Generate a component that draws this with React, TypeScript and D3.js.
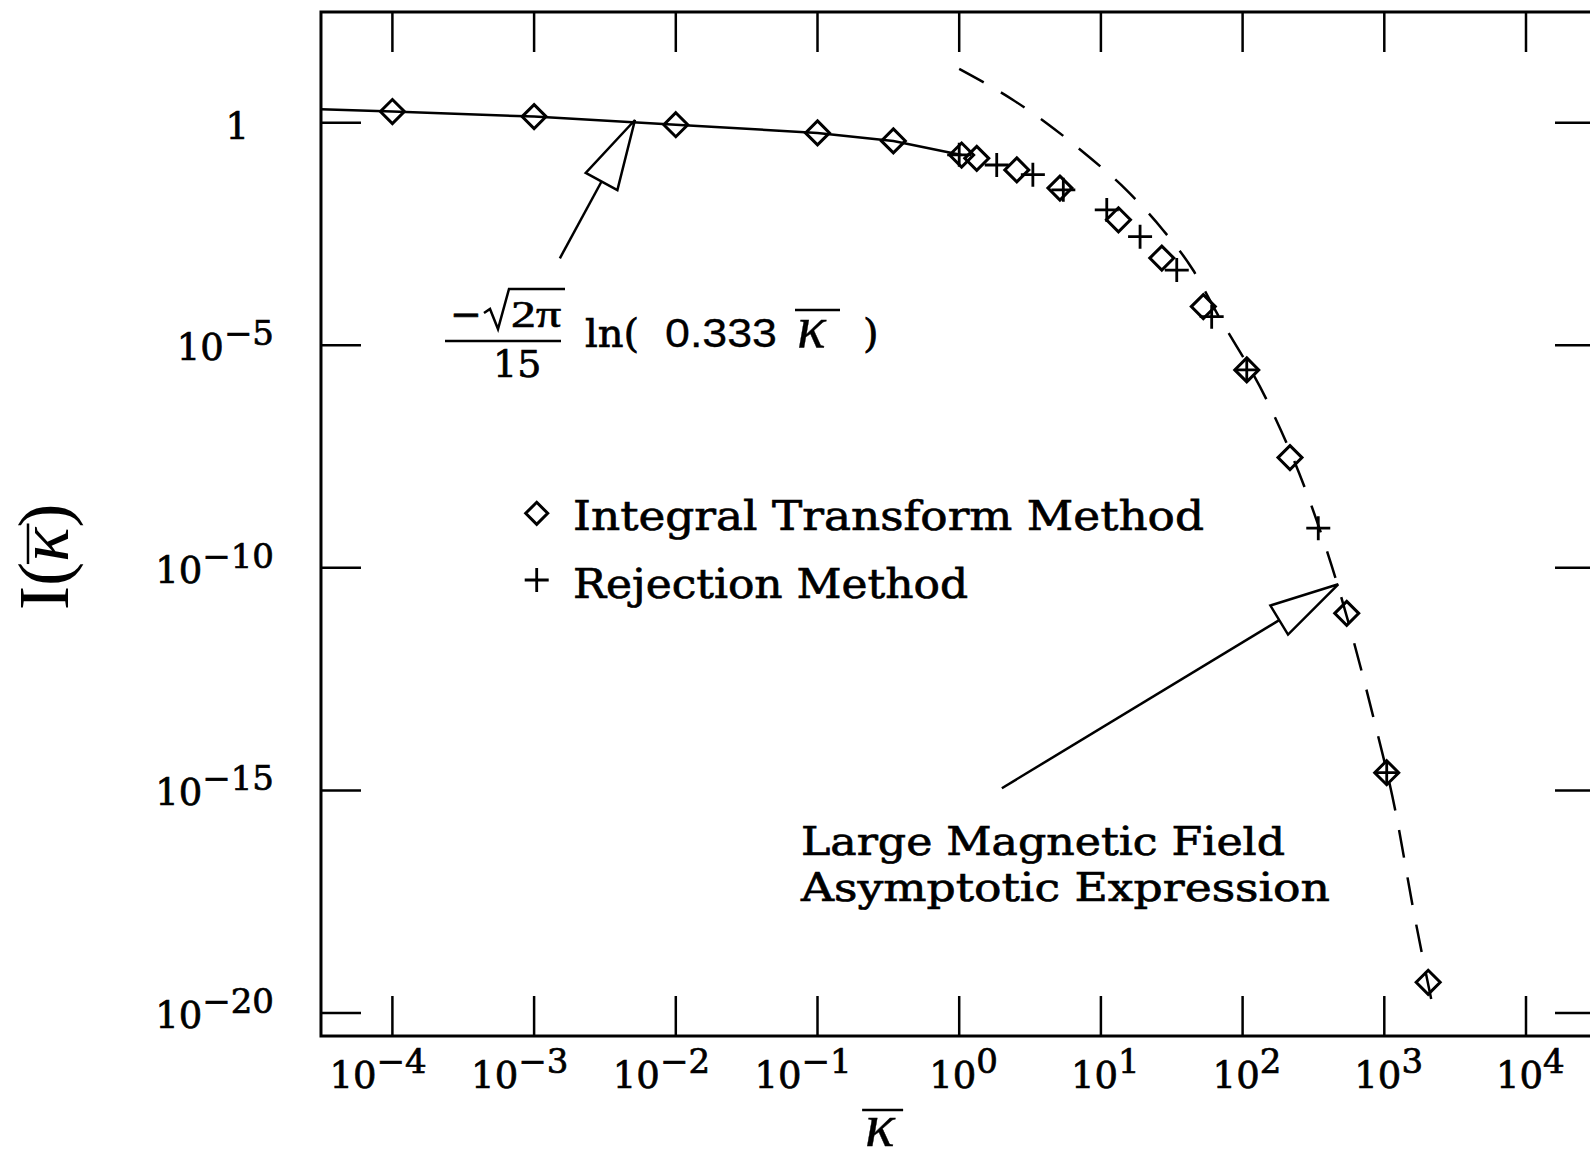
import React, { useEffect, useRef } from 'react';
import * as d3 from 'd3';

const W = 1590;
const H = 1159;

// Integral Transform Method (diamonds)
const itmKappa = [1e-4, 1e-3, 1e-2, 0.1, 0.343, 1.04, 1.33, 2.55, 5.14, 13.3, 26.9, 52.8, 107, 216, 543, 1040, 2040];
const itmValue = [1.78, 1.37, 0.9, 0.59, 0.39, 0.188, 0.158, 0.087, 0.034, 6.6e-3, 9.1e-4, 7.4e-5, 2.8e-6, 3.0e-8, 9.5e-12, 2.5e-15, 4.9e-20];

// Rejection Method (plus)
const rejKappa = [1.0, 1.84, 3.31, 5.43, 11.0, 18.9, 34.3, 60.5, 107, 342, 1040];
const rejValue = [0.19, 0.112, 0.068, 0.031, 0.011, 2.75e-3, 4.9e-4, 4.4e-5, 2.8e-6, 7.8e-10, 2.5e-15];

// small field expression (solid)
const smallKappa = [3.13e-5, 1e-4, 1e-3, 1e-2, 0.1, 0.343, 1.04];
const smallValue = [2.0, 1.78, 1.37, 0.9, 0.59, 0.39, 0.188];

// large field asymptotic expression (dashed)
const asymKappa = [1.0, 2.4, 4.14, 7.94, 15.1, 27.4, 44.7, 65.6, 148, 283, 426, 815, 1197, 1603, 2218];
const asymValue = [16.2, 3.24, 0.977, 0.188, 0.031, 3.9e-3, 4.9e-4, 5.4e-5, 5.9e-7, 4.9e-9, 1.1e-10, 6.2e-14, 3.5e-16, 2.1e-18, 1.2e-20];

const xTickExp = [-4, -3, -2, -1, 0, 1, 2, 3, 4];
const yTickExp = [0, -5, -10, -15, -20];

// annotation arrows: [tipKappa, tipValue, tailKappa, tailValue]
const arrowSmall = [0.00515, 1.15, 0.00152, 9.0e-4];
const arrowLarge = [473, 4.27e-11, 2.0, 1.12e-15];

const SERIF = '"DejaVu Serif", serif';
const TIMES = '"Liberation Serif", serif';

function App() {
  const ref = useRef<SVGSVGElement>(null);

  useEffect(() => {
    const svg = d3.select(ref.current);
    svg.selectAll('*').remove();

    const x = d3.scaleLog().domain([1e-4, 1e4]).range([392.4, 1526]);
    const y = d3.scaleLog().domain([1, 1e-20]).range([122.7, 1013]);

    const left = x(Math.pow(10, -4.504));
    const right = x(Math.pow(10, 4.487));
    const top = y(Math.pow(10, 2.487));
    const bottom = y(Math.pow(10, -20.517));
    const tl = 40;

    const g = svg.append('g').attr('stroke', '#000').attr('fill', 'none').attr('stroke-linecap', 'butt');

    // frame
    g.append('rect')
      .attr('x', left).attr('y', top)
      .attr('width', right - left).attr('height', bottom - top)
      .attr('stroke-width', 3);

    // ticks on all four sides
    xTickExp.forEach((e) => {
      const px = x(Math.pow(10, e));
      g.append('line').attr('x1', px).attr('x2', px).attr('y1', bottom).attr('y2', bottom - tl).attr('stroke-width', 2.5);
      g.append('line').attr('x1', px).attr('x2', px).attr('y1', top).attr('y2', top + tl).attr('stroke-width', 2.5);
    });
    yTickExp.forEach((e) => {
      const py = y(Math.pow(10, e));
      g.append('line').attr('x1', left).attr('x2', left + tl).attr('y1', py).attr('y2', py).attr('stroke-width', 2.5);
      g.append('line').attr('x1', right).attr('x2', right - tl).attr('y1', py).attr('y2', py).attr('stroke-width', 2.5);
    });

    // text layer, slightly thickened like the scanned print
    const txt = svg.append('g').attr('fill', '#000').attr('font-family', SERIF)
      .attr('stroke', '#000').attr('stroke-width', 0.7);

    // x tick labels
    xTickExp.forEach((e) => {
      const px = x(Math.pow(10, e));
      const t = txt.append('text')
        .attr('x', px + (e < 0 ? -63 : -30))
        .attr('y', 1088)
        .attr('font-size', 37);
      t.append('tspan').text('10');
      t.append('tspan').attr('dy', -15).attr('font-size', 34)
        .text(e < 0 ? '\u2212' + Math.abs(e) : String(e));
    });

    // y tick labels
    yTickExp.forEach((e) => {
      const py = y(Math.pow(10, e));
      if (e === 0) {
        txt.append('text').attr('x', 249).attr('y', py + 16).attr('font-size', 37)
          .attr('text-anchor', 'end').text('1');
        return;
      }
      const t = txt.append('text')
        .attr('x', 274).attr('y', py + 15)
        .attr('font-size', 37).attr('text-anchor', 'end');
      t.append('tspan').text('10');
      t.append('tspan').attr('dy', -15).attr('font-size', 34).text('\u2212' + Math.abs(e));
    });

    // curves
    const line = d3.line<[number, number]>()
      .x((d) => x(d[0]))
      .y((d) => y(d[1]));

    g.append('path')
      .datum(smallKappa.map((k, i) => [k, smallValue[i]] as [number, number]))
      .attr('d', line)
      .attr('stroke-width', 2.5);

    g.append('path')
      .datum(asymKappa.map((k, i) => [k, asymValue[i]] as [number, number]))
      .attr('d', line.curve(d3.curveMonotoneX))
      .attr('stroke-width', 2.5)
      .attr('stroke-dasharray', '28,20');

    // markers
    const r = 12;
    const diamond = (cx: number, cy: number, rr: number) =>
      `M${cx},${cy - rr}L${cx + rr},${cy}L${cx},${cy + rr}L${cx - rr},${cy}Z`;
    const plus = (cx: number, cy: number, rr: number) =>
      `M${cx - rr},${cy}H${cx + rr}M${cx},${cy - rr}V${cy + rr}`;

    g.selectAll('.itm')
      .data(itmKappa.map((k, i) => [k, itmValue[i]]))
      .enter().append('path')
      .attr('class', 'itm')
      .attr('d', (d) => diamond(x(d[0]), y(d[1]), r))
      .attr('stroke-width', 3);

    g.selectAll('.rej')
      .data(rejKappa.map((k, i) => [k, rejValue[i]]))
      .enter().append('path')
      .attr('class', 'rej')
      .attr('d', (d) => plus(x(d[0]), y(d[1]), r))
      .attr('stroke-width', 2.8);

    // arrows
    function arrow(a: number[], headLen: number, headHalf: number) {
      const tx = x(a[0]), ty = y(a[1]);
      const ex = x(a[2]), ey = y(a[3]);
      const len = Math.hypot(ex - tx, ey - ty);
      const ux = (ex - tx) / len, uy = (ey - ty) / len;
      const bx = tx + ux * headLen, by = ty + uy * headLen;
      const nx = -uy, ny = ux;
      g.append('line').attr('x1', bx).attr('y1', by).attr('x2', ex).attr('y2', ey).attr('stroke-width', 2.5);
      g.append('path')
        .attr('d', `M${tx},${ty}L${bx + nx * headHalf},${by + ny * headHalf}L${bx - nx * headHalf},${by - ny * headHalf}Z`)
        .attr('fill', '#fff')
        .attr('stroke-width', 2.5)
        .attr('stroke-linejoin', 'miter');
    }
    arrow(arrowSmall, 70, 18);
    arrow(arrowLarge, 69, 17);

    // legend
    g.append('path').attr('d', diamond(536.7, 513.3, 11)).attr('stroke-width', 3);
    g.append('path').attr('d', plus(536.7, 580, 12)).attr('stroke-width', 2.8);
    txt.append('text').attr('x', 573).attr('y', 530).attr('font-size', 41)
      .attr('textLength', 631).attr('lengthAdjust', 'spacingAndGlyphs')
      .text('Integral Transform Method');
    txt.append('text').attr('x', 573).attr('y', 598).attr('font-size', 41)
      .attr('textLength', 395).attr('lengthAdjust', 'spacingAndGlyphs')
      .text('Rejection Method');

    // asymptotic label
    txt.append('text').attr('x', 801).attr('y', 855).attr('font-size', 40)
      .attr('textLength', 484).attr('lengthAdjust', 'spacingAndGlyphs')
      .text('Large Magnetic Field');
    txt.append('text').attr('x', 801).attr('y', 901).attr('font-size', 40)
      .attr('textLength', 529).attr('lengthAdjust', 'spacingAndGlyphs')
      .text('Asymptotic Expression');

    // small-field formula
    txt.append('text').attr('x', 450).attr('y', 327).attr('font-size', 38).text('\u2212');
    g.append('path')
      .attr('d', 'M484,313L490,309L498,329L509,289H565')
      .attr('stroke-width', 2.5).attr('stroke-linejoin', 'miter');
    txt.append('text').attr('x', 511).attr('y', 327).attr('font-size', 38)
      .attr('font-family', TIMES).attr('textLength', 50).attr('lengthAdjust', 'spacingAndGlyphs')
      .text('2\u03c0');
    g.append('line').attr('x1', 445).attr('x2', 561).attr('y1', 341).attr('y2', 341).attr('stroke-width', 2.5);
    txt.append('text').attr('x', 493).attr('y', 377).attr('font-size', 38).text('15');
    txt.append('text').attr('x', 585).attr('y', 347).attr('font-size', 40).text('ln(');
    txt.append('text').attr('x', 665).attr('y', 347).attr('font-size', 40)
      .attr('font-family', '"Liberation Sans", sans-serif').attr('stroke-width', 0.3)
      .attr('textLength', 112).attr('lengthAdjust', 'spacingAndGlyphs')
      .text('0.333');
    txt.append('text').attr('x', 797).attr('y', 347).attr('font-size', 60)
      .attr('font-family', TIMES).attr('font-style', 'italic').attr('stroke-width', 0.3)
      .text('\u03ba');
    g.append('line').attr('x1', 795).attr('x2', 840).attr('y1', 310).attr('y2', 310).attr('stroke-width', 2.5);
    txt.append('text').attr('x', 863).attr('y', 347).attr('font-size', 40).text(')');

    // x axis label
    const xl = txt.append('text').attr('x', 880).attr('y', 1146).attr('font-size', 62)
      .attr('font-family', TIMES).attr('font-style', 'italic').attr('text-anchor', 'middle')
      .attr('stroke-width', 0.4)
      .text('\u03ba');
    const xb = (xl.node() as SVGTextElement).getBBox();
    g.append('line').attr('x1', xb.x - 3).attr('x2', xb.x + xb.width + 7)
      .attr('y1', 1110).attr('y2', 1110).attr('stroke-width', 2.5);

    // y axis label
    const yl = svg.append('g').attr('transform', 'translate(68,610) rotate(-90)')
      .attr('font-family', TIMES).attr('font-size', 72).attr('fill', '#000');
    const p1 = yl.append('text').attr('x', 0).attr('y', 0).text('I(');
    const w1 = (p1.node() as SVGTextElement).getComputedTextLength();
    const p2 = yl.append('text').attr('x', w1).attr('y', 0).attr('font-style', 'italic').text('\u03ba');
    const w2 = (p2.node() as SVGTextElement).getComputedTextLength();
    yl.append('text').attr('x', w1 + w2).attr('y', 0).text(')');
    yl.append('line').attr('x1', w1 - 2).attr('x2', w1 + w2 + 4).attr('y1', -40).attr('y2', -40)
      .attr('stroke', '#000').attr('stroke-width', 2.5);
  }, []);

  return (
    <svg
      ref={ref}
      width={W}
      height={H}
      style={{ position: 'absolute', left: 0, top: 0, background: '#fff' }}
    />
  );
}

export default App;
